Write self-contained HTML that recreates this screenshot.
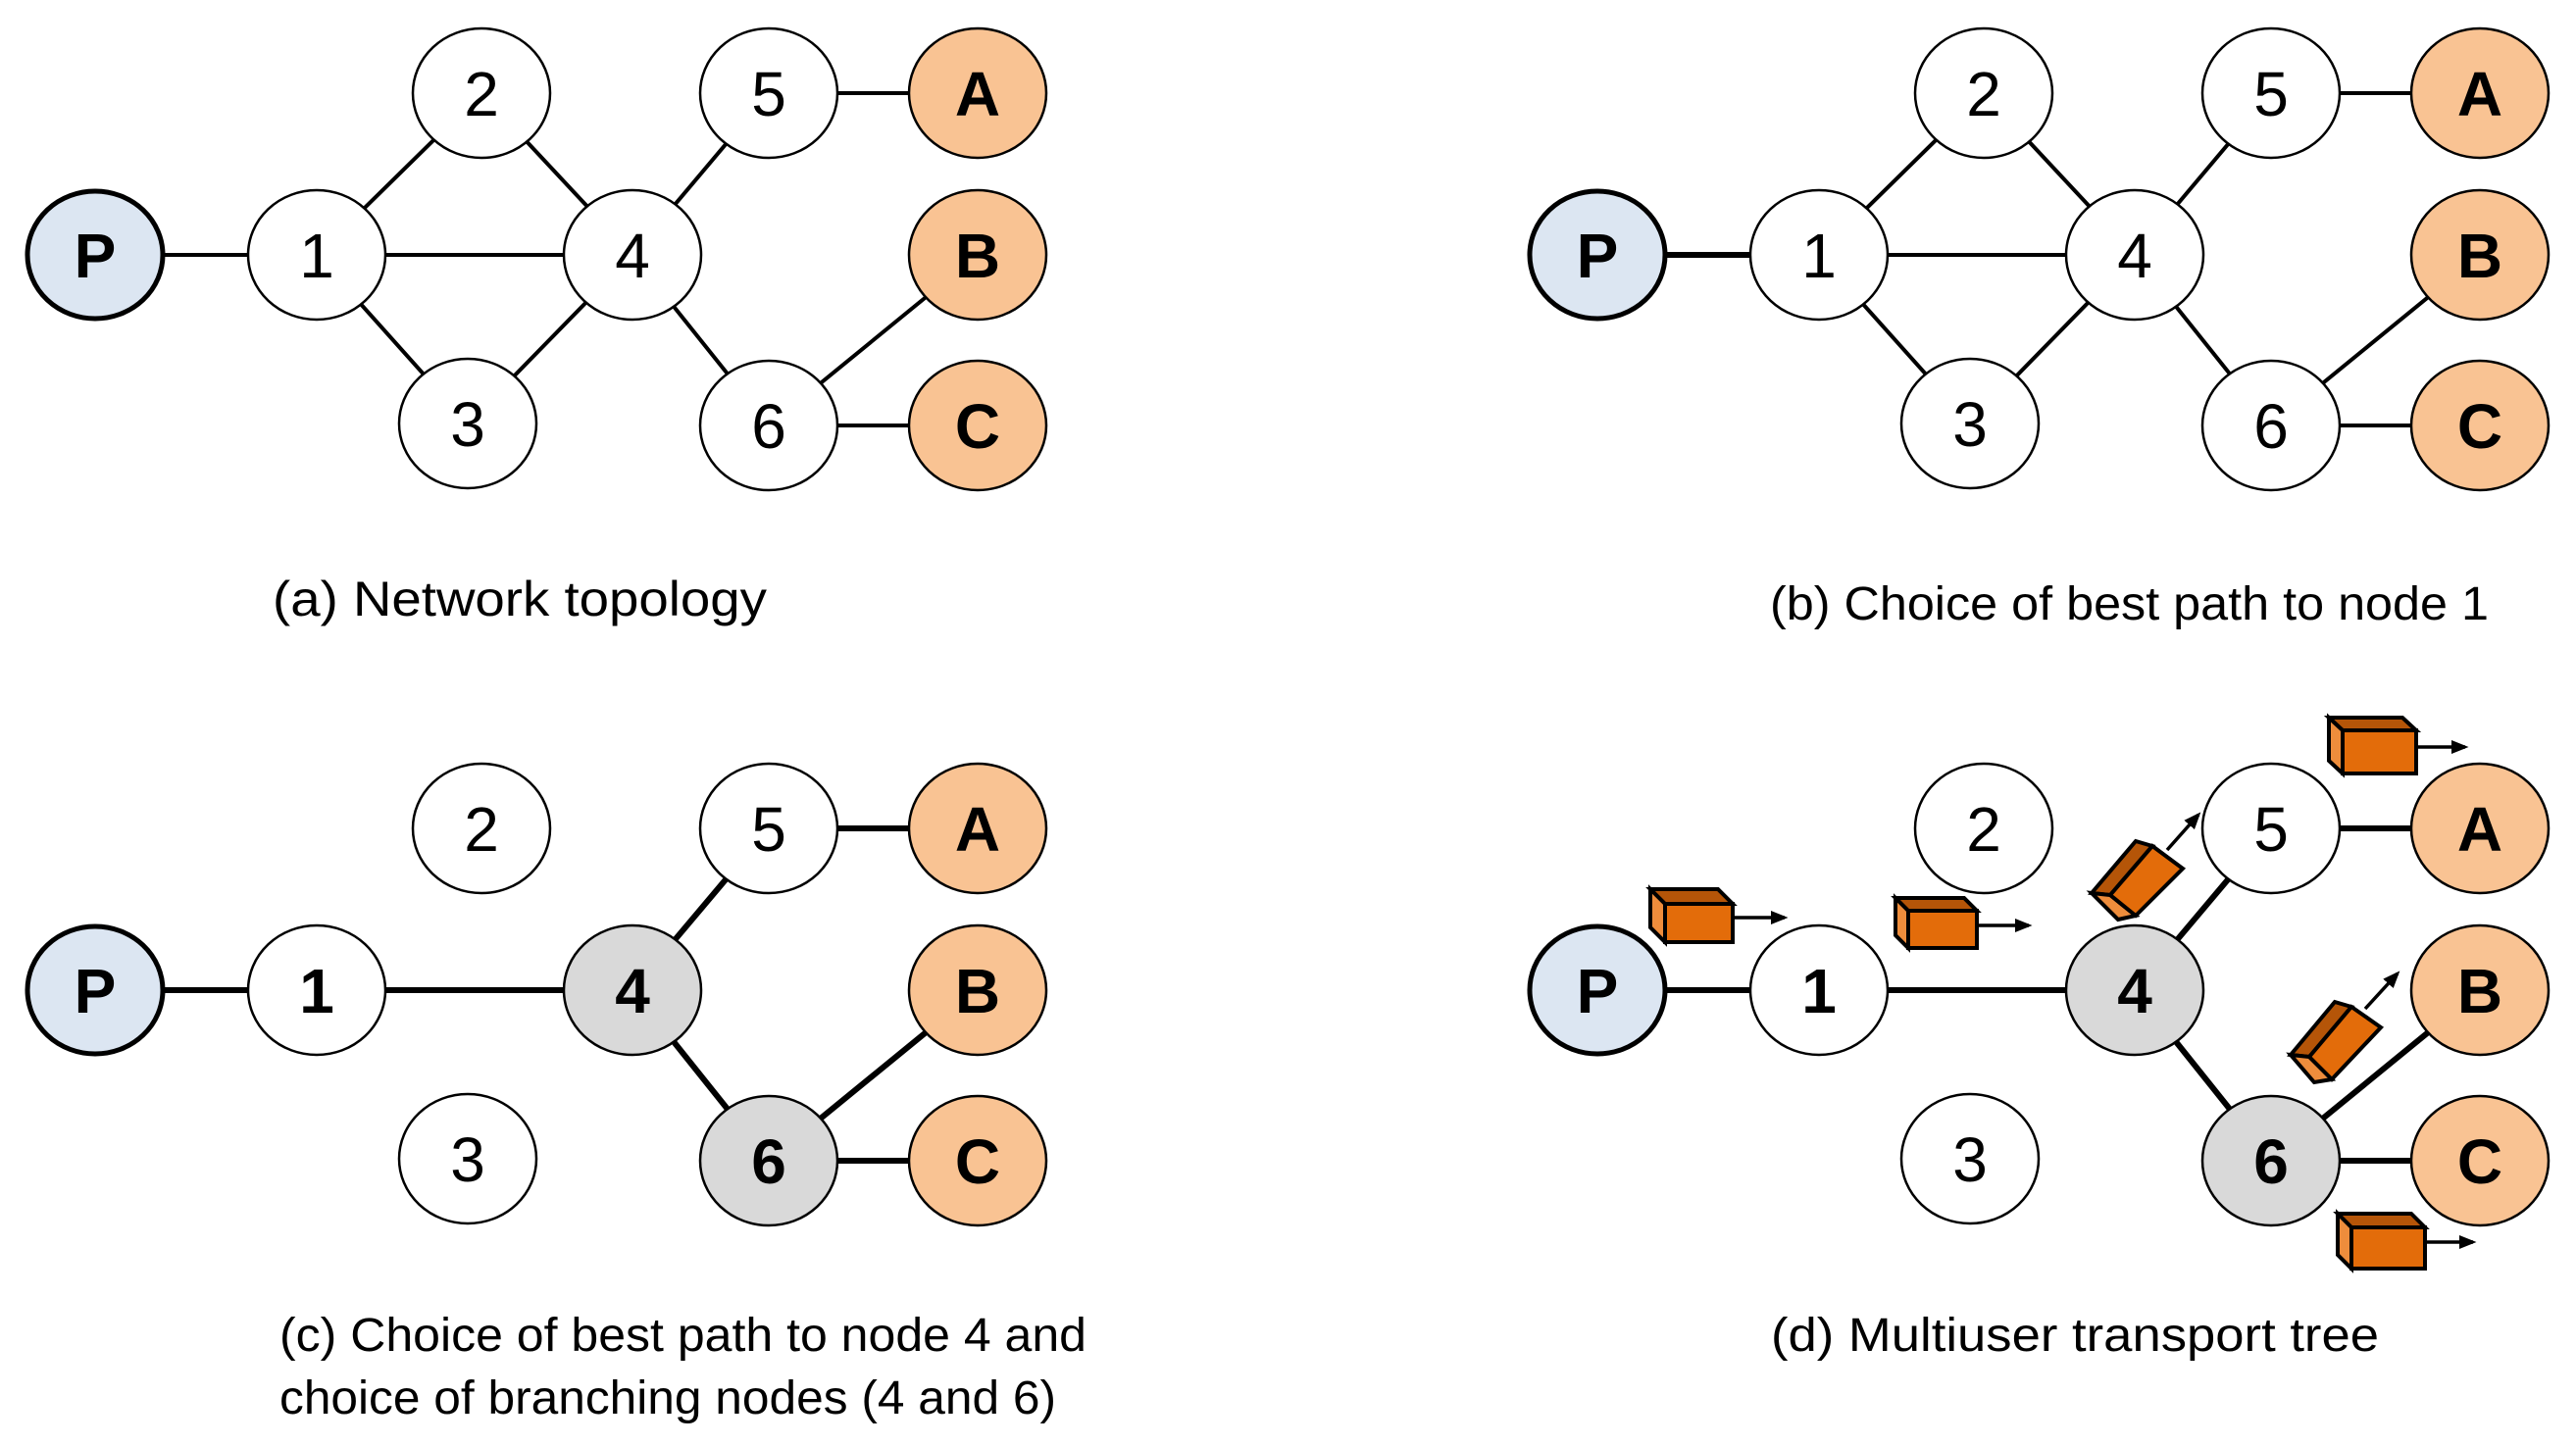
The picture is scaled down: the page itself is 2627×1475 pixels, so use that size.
<!DOCTYPE html>
<html><head><meta charset="utf-8"><style>html,body{margin:0;padding:0;background:#fff}svg{display:block}</style></head>
<body>
<svg width="2627" height="1475" viewBox="0 0 2627 1475" xmlns="http://www.w3.org/2000/svg" font-family="'Liberation Sans', sans-serif">
<defs>
<marker id="ar" markerWidth="5" markerHeight="4" refX="4" refY="2" orient="auto" markerUnits="strokeWidth"><path d="M0,0 L5,2 L0,4 z" fill="#000"/></marker>
</defs>
<!-- ===== Panel A ===== -->
<g stroke="#000" stroke-width="4">
<line x1="97" y1="260" x2="323" y2="260"/><line x1="323" y1="260" x2="491" y2="95"/><line x1="323" y1="260" x2="477" y2="432"/>
<line x1="323" y1="260" x2="645" y2="260"/><line x1="491" y1="95" x2="645" y2="260"/><line x1="477" y1="432" x2="645" y2="260"/>
<line x1="645" y1="260" x2="784" y2="95"/><line x1="645" y1="260" x2="784" y2="434"/><line x1="784" y1="95" x2="997" y2="95"/>
<line x1="784" y1="434" x2="997" y2="260"/><line x1="784" y1="434" x2="997" y2="434"/>
</g>
<g stroke="#000" stroke-width="2.5">
<ellipse cx="97" cy="260" rx="69" ry="65" fill="#DCE6F2" stroke-width="5"/>
<ellipse cx="323" cy="260" rx="70" ry="66" fill="#fff"/>
<ellipse cx="491" cy="95" rx="70" ry="66" fill="#fff"/>
<ellipse cx="477" cy="432" rx="70" ry="66" fill="#fff"/>
<ellipse cx="645" cy="260" rx="70" ry="66" fill="#fff"/>
<ellipse cx="784" cy="95" rx="70" ry="66" fill="#fff"/>
<ellipse cx="784" cy="434" rx="70" ry="66" fill="#fff"/>
<ellipse cx="997" cy="95" rx="70" ry="66" fill="#F9C393"/>
<ellipse cx="997" cy="260" rx="70" ry="66" fill="#F9C393"/>
<ellipse cx="997" cy="434" rx="70" ry="66" fill="#F9C393"/>
</g>
<g font-size="64" text-anchor="middle" fill="#000">
<text x="97" y="283" font-weight="bold">P</text><text x="323" y="283">1</text><text x="491" y="118">2</text><text x="477" y="455">3</text>
<text x="645" y="283">4</text><text x="784" y="118">5</text><text x="784" y="457">6</text>
<text x="997" y="118" font-weight="bold">A</text><text x="997" y="283" font-weight="bold">B</text><text x="997" y="457" font-weight="bold">C</text>
</g>
<text x="278" y="628" font-size="50" textLength="504" lengthAdjust="spacingAndGlyphs">(a) Network topology</text>

<!-- ===== Panel B ===== -->
<g transform="translate(1532,0)">
<g stroke="#000" stroke-width="4">
<line x1="97" y1="260" x2="323" y2="260" stroke-width="6"/><line x1="323" y1="260" x2="491" y2="95"/><line x1="323" y1="260" x2="477" y2="432"/>
<line x1="323" y1="260" x2="645" y2="260"/><line x1="491" y1="95" x2="645" y2="260"/><line x1="477" y1="432" x2="645" y2="260"/>
<line x1="645" y1="260" x2="784" y2="95"/><line x1="645" y1="260" x2="784" y2="434"/><line x1="784" y1="95" x2="997" y2="95"/>
<line x1="784" y1="434" x2="997" y2="260"/><line x1="784" y1="434" x2="997" y2="434"/>
</g>
<g stroke="#000" stroke-width="2.5">
<ellipse cx="97" cy="260" rx="69" ry="65" fill="#DCE6F2" stroke-width="5"/>
<ellipse cx="323" cy="260" rx="70" ry="66" fill="#fff"/>
<ellipse cx="491" cy="95" rx="70" ry="66" fill="#fff"/>
<ellipse cx="477" cy="432" rx="70" ry="66" fill="#fff"/>
<ellipse cx="645" cy="260" rx="70" ry="66" fill="#fff"/>
<ellipse cx="784" cy="95" rx="70" ry="66" fill="#fff"/>
<ellipse cx="784" cy="434" rx="70" ry="66" fill="#fff"/>
<ellipse cx="997" cy="95" rx="70" ry="66" fill="#F9C393"/>
<ellipse cx="997" cy="260" rx="70" ry="66" fill="#F9C393"/>
<ellipse cx="997" cy="434" rx="70" ry="66" fill="#F9C393"/>
</g>
<g font-size="64" text-anchor="middle" fill="#000">
<text x="97" y="283" font-weight="bold">P</text><text x="323" y="283">1</text><text x="491" y="118">2</text><text x="477" y="455">3</text>
<text x="645" y="283">4</text><text x="784" y="118">5</text><text x="784" y="457">6</text>
<text x="997" y="118" font-weight="bold">A</text><text x="997" y="283" font-weight="bold">B</text><text x="997" y="457" font-weight="bold">C</text>
</g>
</g>
<text x="1805" y="632" font-size="48" textLength="733" lengthAdjust="spacingAndGlyphs">(b) Choice of best path to node 1</text>

<!-- ===== Panel C ===== -->
<g transform="translate(0,750)">
<g stroke="#000" stroke-width="6">
<line x1="97" y1="260" x2="323" y2="260"/><line x1="323" y1="260" x2="645" y2="260"/>
<line x1="645" y1="260" x2="784" y2="95"/><line x1="645" y1="260" x2="784" y2="434"/><line x1="784" y1="95" x2="997" y2="95"/>
<line x1="784" y1="434" x2="997" y2="260"/><line x1="784" y1="434" x2="997" y2="434"/>
</g>
<g stroke="#000" stroke-width="2.5">
<ellipse cx="97" cy="260" rx="69" ry="65" fill="#DCE6F2" stroke-width="5"/>
<ellipse cx="323" cy="260" rx="70" ry="66" fill="#fff"/>
<ellipse cx="491" cy="95" rx="70" ry="66" fill="#fff"/>
<ellipse cx="477" cy="432" rx="70" ry="66" fill="#fff"/>
<ellipse cx="645" cy="260" rx="70" ry="66" fill="#D9D9D9"/>
<ellipse cx="784" cy="95" rx="70" ry="66" fill="#fff"/>
<ellipse cx="784" cy="434" rx="70" ry="66" fill="#D9D9D9"/>
<ellipse cx="997" cy="95" rx="70" ry="66" fill="#F9C393"/>
<ellipse cx="997" cy="260" rx="70" ry="66" fill="#F9C393"/>
<ellipse cx="997" cy="434" rx="70" ry="66" fill="#F9C393"/>
</g>
<g font-size="64" text-anchor="middle" fill="#000">
<text x="97" y="283" font-weight="bold">P</text><text x="323" y="283" font-weight="bold">1</text><text x="491" y="118">2</text><text x="477" y="455">3</text>
<text x="645" y="283" font-weight="bold">4</text><text x="784" y="118">5</text><text x="784" y="457" font-weight="bold">6</text>
<text x="997" y="118" font-weight="bold">A</text><text x="997" y="283" font-weight="bold">B</text><text x="997" y="457" font-weight="bold">C</text>
</g>
</g>
<text x="285" y="1378" font-size="48" textLength="823" lengthAdjust="spacingAndGlyphs">(c) Choice of best path to node 4 and</text>
<text x="285" y="1442" font-size="48" textLength="792" lengthAdjust="spacingAndGlyphs">choice of branching nodes (4 and 6)</text>

<!-- ===== Panel D ===== -->
<g transform="translate(1532,750)">
<g stroke="#000" stroke-width="6">
<line x1="97" y1="260" x2="323" y2="260"/><line x1="323" y1="260" x2="645" y2="260"/>
<line x1="645" y1="260" x2="784" y2="95"/><line x1="645" y1="260" x2="784" y2="434"/><line x1="784" y1="95" x2="997" y2="95"/>
<line x1="784" y1="434" x2="997" y2="260"/><line x1="784" y1="434" x2="997" y2="434"/>
</g>
<g stroke="#000" stroke-width="2.5">
<ellipse cx="97" cy="260" rx="69" ry="65" fill="#DCE6F2" stroke-width="5"/>
<ellipse cx="323" cy="260" rx="70" ry="66" fill="#fff"/>
<ellipse cx="491" cy="95" rx="70" ry="66" fill="#fff"/>
<ellipse cx="477" cy="432" rx="70" ry="66" fill="#fff"/>
<ellipse cx="645" cy="260" rx="70" ry="66" fill="#D9D9D9"/>
<ellipse cx="784" cy="95" rx="70" ry="66" fill="#fff"/>
<ellipse cx="784" cy="434" rx="70" ry="66" fill="#D9D9D9"/>
<ellipse cx="997" cy="95" rx="70" ry="66" fill="#F9C393"/>
<ellipse cx="997" cy="260" rx="70" ry="66" fill="#F9C393"/>
<ellipse cx="997" cy="434" rx="70" ry="66" fill="#F9C393"/>
</g>
<g font-size="64" text-anchor="middle" fill="#000">
<text x="97" y="283" font-weight="bold">P</text><text x="323" y="283" font-weight="bold">1</text><text x="491" y="118">2</text><text x="477" y="455">3</text>
<text x="645" y="283" font-weight="bold">4</text><text x="784" y="118">5</text><text x="784" y="457" font-weight="bold">6</text>
<text x="997" y="118" font-weight="bold">A</text><text x="997" y="283" font-weight="bold">B</text><text x="997" y="457" font-weight="bold">C</text>
</g>
</g>
<text x="1806" y="1378" font-size="48" textLength="620" lengthAdjust="spacingAndGlyphs">(d) Multiuser transport tree</text>

<!-- packets -->
<g stroke="#000" stroke-width="4" stroke-linejoin="miter">
<polygon points="1698,922 1683,907 1752,907 1767,922" fill="#B55508"/>
<polygon points="1698,922 1683,907 1683,946 1698,961" fill="#EE8D3C"/>
<rect x="1698" y="922" width="69" height="39" fill="#E36C0A"/>
<polygon points="1946,929 1933,916 2003,916 2016,929" fill="#B55508"/>
<polygon points="1946,929 1933,916 1933,954 1946,967" fill="#EE8D3C"/>
<rect x="1946" y="929" width="70" height="38" fill="#E36C0A"/>
<polygon points="2389,745 2375,732 2450,732 2464,745" fill="#B55508"/>
<polygon points="2389,745 2375,732 2375,776 2389,789" fill="#EE8D3C"/>
<rect x="2389" y="745" width="75" height="44" fill="#E36C0A"/>
<polygon points="2398,1252 2384,1238 2459,1238 2473,1252" fill="#B55508"/>
<polygon points="2398,1252 2384,1238 2384,1280 2398,1294" fill="#EE8D3C"/>
<rect x="2398" y="1252" width="75" height="42" fill="#E36C0A"/>
<polygon points="2152,913 2195,863 2178,858 2133,911" fill="#B55508"/>
<polygon points="2152,913 2178,934 2160,938 2133,911" fill="#EE8D3C"/>
<polygon points="2152,913 2195,863 2226,886 2178,934" fill="#E36C0A"/>
<polygon points="2355,1078 2398,1027 2381,1022 2336,1076" fill="#B55508"/>
<polygon points="2355,1078 2378,1101 2360,1104 2336,1076" fill="#EE8D3C"/>
<polygon points="2355,1078 2398,1027 2428,1048 2378,1101" fill="#E36C0A"/>
</g>
<g stroke="#000" stroke-width="3.5" marker-end="url(#ar)">
<line x1="1767" y1="936" x2="1820" y2="936"/>
<line x1="2016" y1="944" x2="2069" y2="944"/>
<line x1="2464" y1="762" x2="2514" y2="762"/>
<line x1="2473" y1="1267" x2="2522" y2="1267"/>
<line x1="2210" y1="867" x2="2242" y2="831"/>
<line x1="2412" y1="1029" x2="2445" y2="993"/>
</g>
</svg>
</body></html>
